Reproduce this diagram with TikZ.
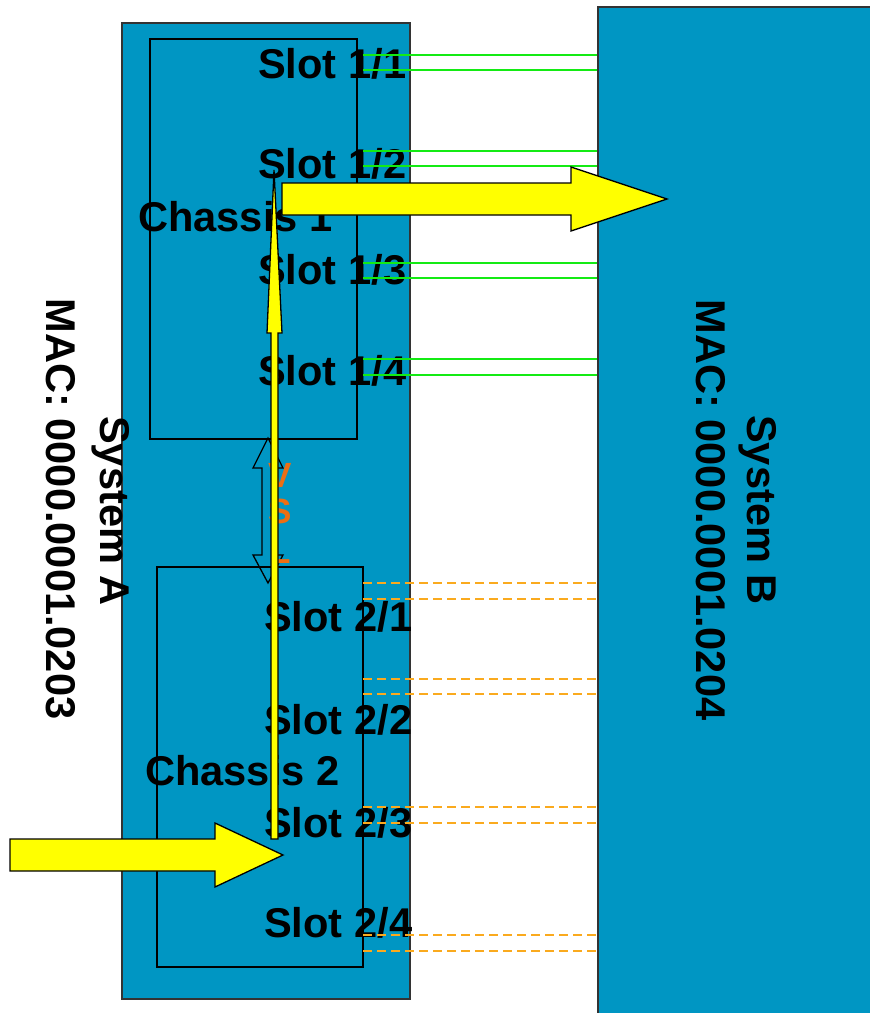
\documentclass[tikz,border=0pt]{standalone}
\usepackage{fontspec}
\setmainfont{Liberation Sans}
\definecolor{sysblue}{RGB}{0,150,195}
\definecolor{linkgreen}{RGB}{20,235,20}
\definecolor{linkorange}{RGB}{250,170,30}
\definecolor{vslorange}{RGB}{235,110,20}
\definecolor{arrowyellow}{RGB}{255,255,0}
\tikzset{
  sysbox/.style={draw=black!80, fill=sysblue, line width=1.3pt, inner sep=0pt},
  chassisbox/.style={draw=black, line width=1.3pt, inner sep=0pt},
  biglabel/.style={font=\bfseries\fontsize{41.6}{50}\selectfont, inner sep=0pt, anchor=base west},
  syslabel/.style={font=\bfseries\fontsize{41.6}{50}\selectfont, inner sep=0pt, anchor=base, rotate=-90},
  vsllabel/.style={font=\bfseries\fontsize{35}{38}\selectfont, text=vslorange, inner sep=0pt, anchor=base},
  greenlink/.style={draw=linkgreen, line width=1.8pt},
  orangelink/.style={draw=linkorange, line width=1.8pt, dash pattern=on 9pt off 5pt},
  blockarrow/.style={fill=arrowyellow, draw=black, line width=1.3pt, line join=miter},
  hollowarrow/.style={draw=black, line width=1.3pt}
}
\begin{document}
\begin{tikzpicture}[x=1pt,y=-1pt]
\useasboundingbox (0,0) rectangle (870,1013);
% system boxes
\node[sysbox, minimum width=288pt, minimum height=976pt] (sysA) at (266,511) {};
\node[sysbox, minimum width=282pt, minimum height=1020pt] (sysB) at (739,517) {};
% chassis boxes
\node[chassisbox, minimum width=207pt, minimum height=400pt] (ch1) at (253.5,239) {};
\node[chassisbox, minimum width=206pt, minimum height=400pt] (ch2) at (260,767) {};
% labels
\node[biglabel] (s11) at (258,78) {Slot 1/1};
\node[biglabel] (s12) at (258,178) {Slot 1/2};
\node[biglabel] (s13) at (258,284) {Slot 1/3};
\node[biglabel] (s14) at (258,385) {Slot 1/4};
\node[biglabel] (s21) at (264,631) {Slot 2/1};
\node[biglabel] (s22) at (264,734) {Slot 2/2};
\node[biglabel] (s23) at (264,837) {Slot 2/3};
\node[biglabel] (s24) at (264,937) {Slot 2/4};
\node[biglabel] (c1) at (138,231) {Chassis 1};
\node[biglabel] (c2) at (145,785) {Chassis 2};
\node[syslabel] (nameA) at (100,511) {System A};
\node[syslabel] (macA) at (46,509) {MAC: 0000.0001.0203};
\node[syslabel] (nameB) at (747,510) {System B};
\node[syslabel] (macB) at (696,510) {MAC: 0000.0001.0204};
% links
\foreach \n/\y in {a/55,b/70,c/151,d/166,e/263,f/278,g/359,h/375}{
  \coordinate (g\n) at (363,\y);
  \draw[greenlink] (g\n) -- (g\n -| sysB.west);
}
\foreach \n/\y in {a/583,b/599,c/679,d/694,e/807,f/823,g/935,h/951}{
  \coordinate (o\n) at (363,\y);
  \draw[orangelink] (o\n) -- (o\n -| sysB.west);
}
% VSL double arrow and label
\draw[hollowarrow] (268,438) -- (283,468) -- (274,468) -- (274,555) -- (283,555)
  -- (268,583) -- (253,555) -- (262,555) -- (262,468) -- (253,468) -- cycle;
\node[vsllabel] (vslV) at (280,487) {V};
\node[vsllabel] (vslS) at (280,523) {S};
\node[vsllabel] (vslL) at (280,563) {L};
% yellow arrows
\draw[blockarrow] (274,170) -- (282,333) -- (278,333) -- (278,839) -- (271,839)
  -- (271,333) -- (267,333) -- cycle;
\draw[blockarrow] (282,183) -- (571,183) -- (571,167) -- (667,199) -- (571,231)
  -- (571,215) -- (282,215) -- cycle;
\draw[blockarrow] (10,839) -- (215,839) -- (215,823) -- (283,855) -- (215,887)
  -- (215,871) -- (10,871) -- cycle;
\end{tikzpicture}
\end{document}
